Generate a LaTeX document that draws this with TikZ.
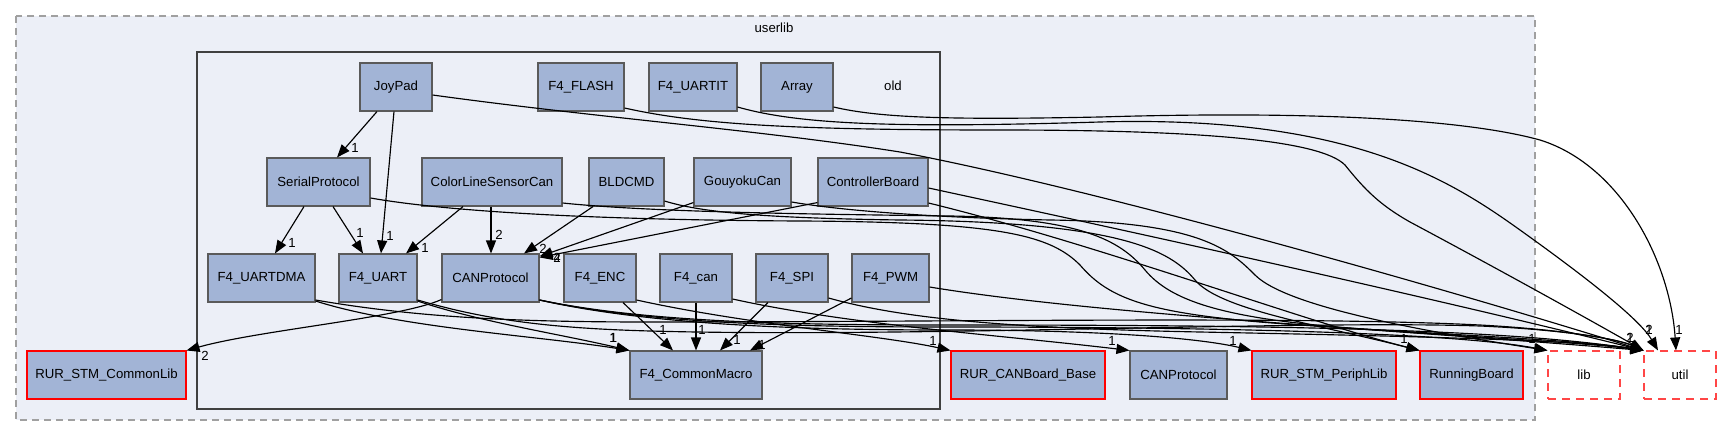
\documentclass[tikz,border=0pt]{standalone}
\usepackage{fontspec}
\setmainfont{Liberation Sans}
\usetikzlibrary{arrows.meta}
\definecolor{bgc}{RGB}{236,239,247}
\definecolor{nodefill}{RGB}{162,180,214}
\definecolor{nodeborder}{RGB}{90,90,90}
\definecolor{oldborder}{RGB}{64,64,64}
\definecolor{dashgray}{RGB}{160,160,160}
\definecolor{libred}{RGB}{255,70,70}
\begin{document}
\begin{tikzpicture}[x=1pt,y=-1pt,
  font=\fontsize{13.2pt}{15pt}\selectfont,
  box/.style={draw=nodeborder, fill=nodefill, line width=1.1pt, minimum height=48pt, inner sep=0pt, text=black},
  redbox/.style={box, draw=red},
  extbox/.style={draw=libred, fill=white, dash pattern=on 8pt off 6pt, line width=1.1pt, minimum height=48pt, inner sep=0pt},
  edge/.style={line width=1.15pt, -{Triangle[length=13pt,width=10pt]}},
  lbl/.style={inner sep=0pt}]
\useasboundingbox (0,0) rectangle (1721,436);
% clusters
\draw[dashgray, dash pattern=on 7pt off 5pt, line width=1.2pt, fill=bgc] (16,16) rectangle (1535,420);
\node (userlibl) at (774,28) {userlib};
\draw[line width=2.6pt, draw=oldborder, fill=bgc] (197,52) rectangle (940,409);
\node (oldlbl) at (893,86) {old};
% nodes
\node[box, minimum width=72pt] (JoyPad) at (396,87) {JoyPad};
\node[box, minimum width=86pt] (F4FLASH) at (581,87) {F4\_FLASH};
\node[box, minimum width=88pt] (F4UARTIT) at (693,87) {F4\_UARTIT};
\node[box, minimum width=72pt] (Array) at (797,87) {Array};
\node[box, minimum width=103pt] (Serial) at (318.5,182) {SerialProtocol};
\node[box, minimum width=140pt] (Color) at (492,182) {ColorLineSensorCan};
\node[box, minimum width=75pt] (BLDCMD) at (626.5,182) {BLDCMD};
\node[box, minimum width=97pt] (Gouyoku) at (742.5,182) {GouyokuCan};
\node[box, minimum width=110pt] (Controller) at (873,182) {ControllerBoard};
\node[box, minimum width=107pt] (UARTDMA) at (261.5,278) {F4\_UARTDMA};
\node[box, minimum width=78pt] (UART) at (378,278) {F4\_UART};
\node[box, minimum width=97pt] (CANP) at (490.5,278) {CANProtocol};
\node[box, minimum width=72pt] (ENC) at (600,278) {F4\_ENC};
\node[box, minimum width=72pt] (CAN) at (696,278) {F4\_can};
\node[box, minimum width=72pt] (SPI) at (792,278) {F4\_SPI};
\node[box, minimum width=77pt] (PWM) at (890.5,278) {F4\_PWM};
\node[redbox, minimum width=159pt] (CommonLib) at (106.5,375) {RUR\_STM\_CommonLib};
\node[box, minimum width=132pt] (Macro) at (696,375) {F4\_CommonMacro};
\node[redbox, minimum width=154pt] (CANBoard) at (1028,375) {RUR\_CANBoard\_Base};
\node[box, minimum width=97pt] (CANP2) at (1178.5,375) {CANProtocol};
\node[redbox, minimum width=144pt] (Periph) at (1324,375) {RUR\_STM\_PeriphLib};
\node[redbox, minimum width=103pt] (Running) at (1471.5,375) {RunningBoard};
\node[extbox, minimum width=72pt] (lib) at (1584,375) {lib};
\node[extbox, minimum width=72pt] (util) at (1680,375) {util};
% internal edges
\draw[edge] ([xshift=-19pt]JoyPad.south) -- ([xshift=18.5pt]Serial.north);
\draw[edge] ([xshift=-2pt]JoyPad.south) -- ([xshift=3pt]UART.north);
\draw[edge] ([xshift=-14.5pt]Serial.south) -- ([xshift=13.5pt]UARTDMA.north);
\draw[edge] ([xshift=14.5pt]Serial.south) -- ([xshift=-15pt]UART.north);
\draw[edge] ([xshift=-29pt]Color.south) -- ([xshift=28pt]UART.north);
\draw[edge] ([xshift=-1pt]Color.south) -- ([xshift=0.5pt]CANP.north);
\draw[edge] ([xshift=-33.5pt]BLDCMD.south) -- ([xshift=33.5pt]CANP.north);
\draw[edge] ([yshift=4pt]Gouyoku.south west) -- ([yshift=-3pt]CANP.north east);
\draw[edge] ([yshift=4pt]Controller.south west) -- ([yshift=-4pt]CANP.north east);
\draw[edge] ([yshift=3pt]CANP.south west) .. controls (400,318) and (260,330) .. (CommonLib.north east);
\draw[edge] ([yshift=-23pt]UARTDMA.east) .. controls (400,328) and (540,336) .. (Macro.north west);
\draw[edge] ([yshift=-23pt]UART.east) .. controls (480,322) and (560,334) .. (Macro.north west);
\draw[edge] ([xshift=23pt]ENC.south) -- ([xshift=-23pt]Macro.north);
\draw[edge] (CAN.south) -- (Macro.north);
\draw[edge] ([xshift=-24pt]SPI.south) -- ([xshift=24pt]Macro.north);
\draw[edge] ([yshift=-20pt]PWM.west) -- ([xshift=54pt]Macro.north);
% top edges to util
\draw[edge] ([yshift=-8pt]JoyPad.east) .. controls (600,118) and (760,130) .. (900,152) .. controls (1100,190) and (1450,290) .. (util.north west);
\draw[edge] ([yshift=-21pt]F4FLASH.east) .. controls (700,125) and (800,130) .. (1000,130) .. controls (1200,130) and (1320,140) .. (1345,165) .. controls (1365,190) and (1380,205) .. (1410,222) .. controls (1500,270) and (1590,320) .. (util.north west);
\draw[edge] ([yshift=-20pt]F4UARTIT.east) .. controls (800,125) and (900,128) .. (1100,122) .. controls (1350,115) and (1450,180) .. (1520,230) .. controls (1590,280) and (1640,320) .. ([xshift=-22pt]util.north);
\draw[edge] ([yshift=-20pt]Array.east) .. controls (880,118) and (950,120) .. (1100,117) .. controls (1300,111) and (1460,118) .. (1540,140) .. controls (1620,165) and (1670,260) .. ([xshift=-4pt]util.north);
% row 2 edges
\draw[edge] ([yshift=-16pt]Serial.east) .. controls (450,212) and (600,220) .. (800,221) .. controls (1000,222) and (1050,235) .. (1080,265) .. controls (1110,300) and (1150,315) .. (1300,325) .. controls (1450,335) and (1580,340) .. (util.north west);
\draw[edge] ([yshift=-21pt]Color.east) .. controls (650,212) and (800,214) .. (950,216) .. controls (1080,218) and (1120,240) .. (1145,270) .. controls (1170,300) and (1220,318) .. (1350,328) .. controls (1480,338) and (1580,342) .. (util.north west);
\draw[edge] ([yshift=-19pt]BLDCMD.east) .. controls (700,212) and (760,218) .. (900,220) .. controls (1120,222) and (1170,250) .. (1195,280) .. controls (1220,310) and (1320,325) .. (Running.north west);
\draw[edge] ([yshift=-20pt]Gouyoku.east) .. controls (850,212) and (950,218) .. (1050,220) .. controls (1200,222) and (1230,250) .. (1255,275) .. controls (1290,310) and (1450,335) .. (lib.north west);
\draw[edge] ([yshift=-6pt]Controller.east) .. controls (1100,225) and (1400,290) .. (util.north west);
\draw[edge] ([yshift=-21pt]Controller.east) .. controls (1100,245) and (1300,320) .. (Running.north west);
% row 3 edges
\draw[edge] ([yshift=-22pt]UARTDMA.east) .. controls (420,318) and (520,322) .. (650,322) .. controls (950,322) and (1300,316) .. (1480,325) .. controls (1570,330) and (1620,340) .. (util.north west);
\draw[edge] ([yshift=-22pt]UART.east) .. controls (480,318) and (540,328) .. (650,331) .. controls (900,338) and (1300,320) .. (1480,326) .. controls (1570,330) and (1620,340) .. (util.north west);
\draw[edge] ([yshift=-22pt]CANP.east) .. controls (650,325) and (800,330) .. (950,330) .. controls (1100,330) and (1200,338) .. (Periph.north west);
\draw[edge] ([yshift=-22pt]CANP.east) .. controls (650,324) and (800,327) .. (950,327) .. controls (1200,327) and (1450,332) .. (lib.north west);
\draw[edge] ([yshift=-22pt]CANP.east) .. controls (650,323) and (800,325) .. (950,325) .. controls (1250,325) and (1500,328) .. (util.north west);
\draw[edge] ([yshift=-22pt]ENC.east) .. controls (750,325) and (880,335) .. (CANBoard.north west);
\draw[edge] ([yshift=-21pt]CAN.east) .. controls (850,325) and (1000,335) .. (CANP2.north west);
\draw[edge] ([yshift=-20pt]SPI.east) .. controls (900,318) and (1000,328) .. (1200,332) .. controls (1400,336) and (1580,340) .. (util.north west);
\draw[edge] ([yshift=-9pt]PWM.east) .. controls (1100,315) and (1400,330) .. (util.north west);
% labels
\node[lbl] (l1) at (355,148) {1};
\node[lbl] (l2) at (390,236) {1};
\node[lbl] (l3) at (292,243) {1};
\node[lbl] (l4) at (360,233) {1};
\node[lbl] (l5) at (425,248) {1};
\node[lbl] (l6) at (499,235) {2};
\node[lbl] (l7) at (543,249) {2};
\node[lbl] (l8) at (557,258) {2};
\node[lbl] (l9) at (557,258) {4};
\node[lbl] (l10) at (205,356) {2};
\node[lbl] (l11) at (613,338) {1};
\node[lbl] (l12) at (613.5,338) {1};
\node[lbl] (l13) at (663,330) {1};
\node[lbl] (l14) at (702,330) {1};
\node[lbl] (l15) at (737,340) {1};
\node[lbl] (l16) at (762,345) {1};
\node[lbl] (l17) at (933,341) {1};
\node[lbl] (l18) at (1112,341) {1};
\node[lbl] (l19) at (1233,341) {1};
\node[lbl] (l20) at (1404,339) {1};
\node[lbl] (l21) at (1532,339) {1};
\node[lbl] (l22) at (1630,338) {1};
\node[lbl] (l23) at (1630,338) {2};
\node[lbl] (l24) at (1649,330) {1};
\node[lbl] (l25) at (1649,330) {2};
\node[lbl] (l26) at (1679,330) {1};
\end{tikzpicture}
\end{document}
